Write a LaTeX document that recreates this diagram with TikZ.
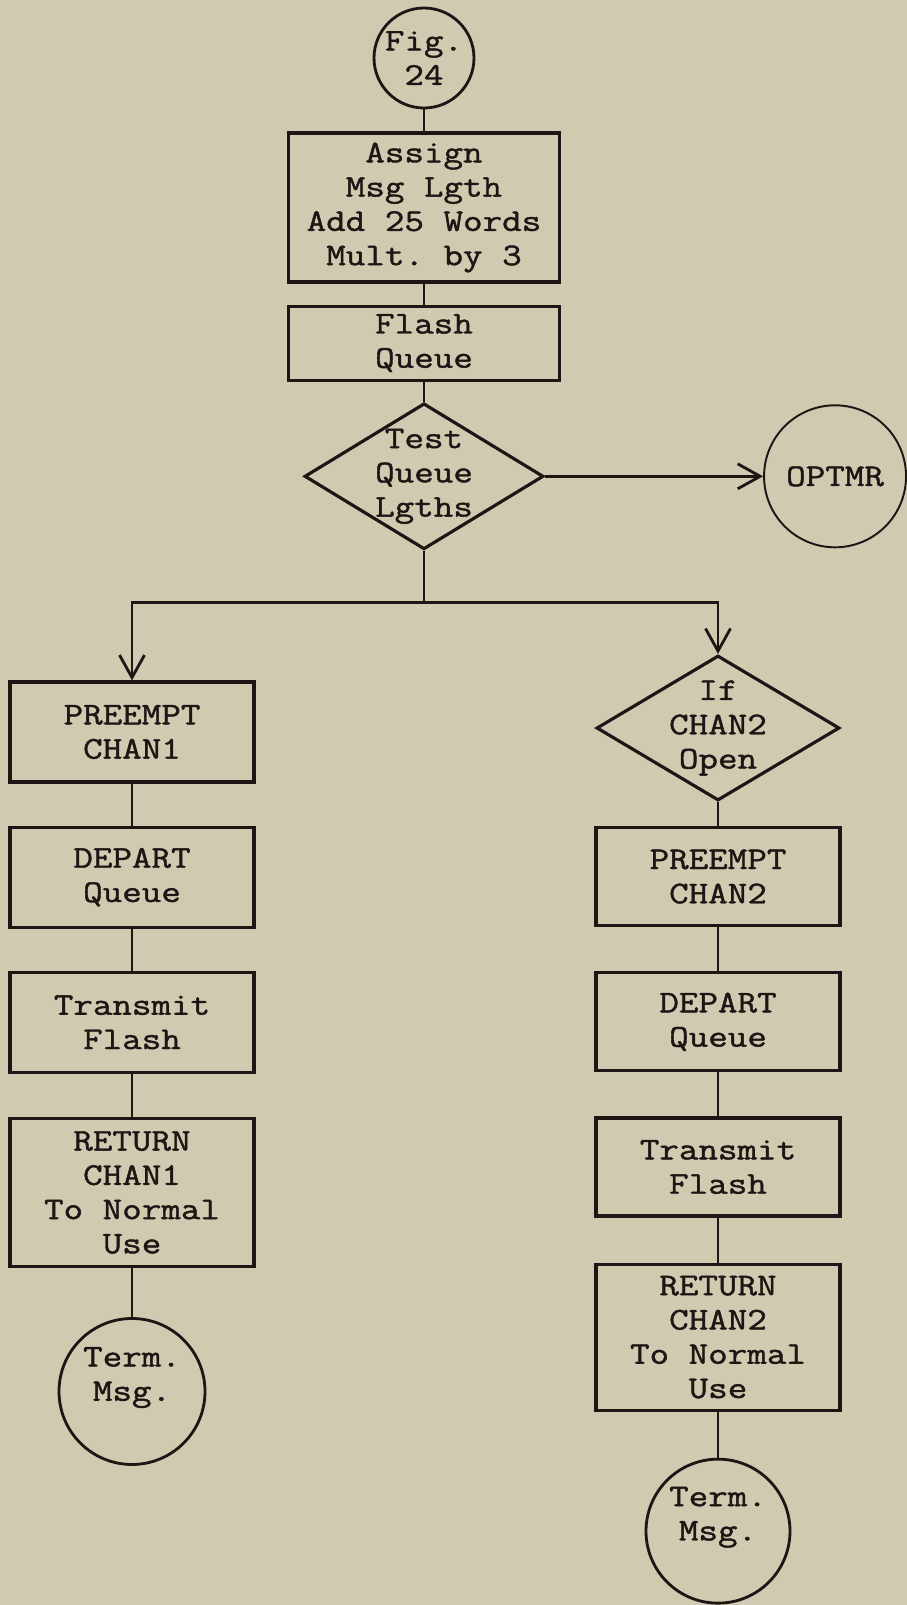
\documentclass[tikz,border=0pt]{standalone}
\usepackage{fontspec}
\setmonofont{Latin Modern Mono}[FakeStretch=1.2, FakeBold=1.3]
\usetikzlibrary{positioning,arrows.meta,shapes.geometric}
\definecolor{paper}{RGB}{207,202,176}
\definecolor{ink}{RGB}{28,22,20}

\begin{document}
\begin{tikzpicture}[font=\fontsize{18}{19.5}\selectfont\ttfamily, color=ink,
  box/.style={draw, line width=1.8pt, align=center, inner sep=2pt, minimum width=4.88cm, minimum height=2cm},
  decision/.style={diamond, draw, line width=1.8pt, inner sep=0pt},
  term/.style={circle, draw, line width=1.6pt, align=center, inner sep=0pt},
  endterm/.style={term, text depth=0.7cm},
  conn/.style={line width=1.6pt},
  arr/.style={line width=1.6pt, -{Straight Barb[length=4.5mm, width=5mm]}}]
\fill[paper] (0,0) rectangle (18.14,-32.1);
\useasboundingbox (0,0) rectangle (18.14,-32.1);

% main trunk
\node[term, minimum size=2cm] (fig) at (8.48,-1.16) {Fig.\\24};
\node[box, minimum width=5.42cm, minimum height=2.98cm, below=0.44cm of fig] (assign) {Assign\\Msg Lgth\\Add 25 Words\\Mult. by 3};
\node[box, minimum width=5.42cm, minimum height=1.48cm, below=0.42cm of assign] (flash) {Flash\\Queue};
\node[decision, minimum width=4.78cm, minimum height=2.92cm, below=0.4cm of flash,
  label={[align=center]center:{Test\\Queue\\Lgths}}] (test) {};
\node[term, line width=1.1pt, minimum size=2.84cm, right=4.36cm of test] (optmr) {OPTMR};
\coordinate[below=1.04cm of test] (split);

% channel 1
\node[box] (pre1) at (2.64,-14.64) {PREEMPT\\CHAN1};
\node[box, below=0.84cm of pre1] (dep1) {DEPART\\Queue};
\node[box, below=0.84cm of dep1] (tx1) {Transmit\\Flash};
\node[box, minimum height=2.96cm, below=0.86cm of tx1] (ret1) {RETURN\\CHAN1\\To Normal\\Use};
\node[endterm, minimum size=2.92cm, below=0.98cm of ret1] (end1) {Term.\\Msg.};

% channel 2
\node[decision, minimum width=4.86cm, minimum height=2.9cm,
  label={[align=center]center:{If\\CHAN2\\Open}}] (if2) at (14.36,-14.56) {};
\node[box, minimum height=1.96cm, below=0.48cm of if2] (pre2) {PREEMPT\\CHAN2};
\node[box, minimum height=1.96cm, below=0.88cm of pre2] (dep2) {DEPART\\Queue};
\node[box, minimum height=1.96cm, below=0.88cm of dep2] (tx2) {Transmit\\Flash};
\node[box, minimum height=2.92cm, below=0.9cm of tx2] (ret2) {RETURN\\CHAN2\\To Normal\\Use};
\node[endterm, minimum size=2.88cm, below=0.92cm of ret2] (end2) {Term.\\Msg.};

\draw[conn] (fig) -- (assign);
\draw[conn] (assign) -- (flash);
\draw[conn] (flash) -- (test);
\draw[arr] (test.east) -- (optmr);
\draw[conn] (test.south) -- (split);
\draw[arr] (split) -| (pre1.north);
\draw[arr] (split) -| (if2.north);
\draw[conn] (pre1) -- (dep1);
\draw[conn] (dep1) -- (tx1);
\draw[conn] (tx1) -- (ret1);
\draw[conn] (ret1) -- (end1);
\draw[conn] (if2) -- (pre2);
\draw[conn] (pre2) -- (dep2);
\draw[conn] (dep2) -- (tx2);
\draw[conn] (tx2) -- (ret2);
\draw[conn] (ret2) -- (end2);
\end{tikzpicture}
\end{document}
